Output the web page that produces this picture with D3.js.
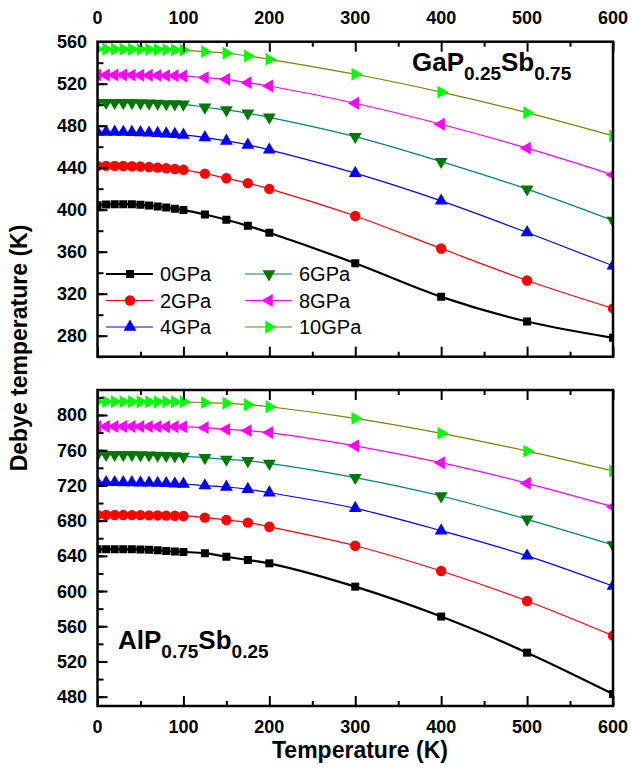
<!DOCTYPE html>
<html>
<head>
<meta charset="utf-8">
<script src="https://cdn.jsdelivr.net/npm/d3@7"></script>
<style>
  body { margin: 0; background: #fff; }
  svg { font-family: "Liberation Sans", Arial, sans-serif; }
  .tick-label { font-weight: bold; font-size: 18px; }
  .title { font-weight: bold; font-size: 23px; }
  .legend-text { font-size: 20px; }
</style>
</head>
<body>
<div id="chart"></div>
<script>
// temperatures (K) sampled for every curve
var temps = [0, 10, 20, 30, 40, 50, 60, 70, 80, 90, 100, 125, 150, 175, 200, 300, 400, 500, 600];
var pressures = ["0GPa", "2GPa", "4GPa", "6GPa", "8GPa", "10GPa"];

// GaP0.25Sb0.75 Debye temperature
var gap0 = [404.2, 405, 405.3, 405.3, 405.2, 404.6, 404, 403, 402, 400.8, 399.6, 395.4, 390.4, 384.6, 378, 349, 317, 293.5, 278];
var gap2 = [441.6, 441.7, 441.7, 441.6, 441.4, 441.1, 440.6, 440.1, 439.5, 438.8, 438, 434.4, 430, 425.3, 419.8, 394, 363, 332.6, 306];
var gap4 = [474, 474, 474, 473.9, 473.7, 473.5, 473.2, 472.8, 472.3, 471.8, 471.2, 468.7, 465.5, 461.7, 457, 434.8, 408.4, 378.3, 346.6];
var gap6 = [502, 502, 502, 501.9, 501.8, 501.6, 501.4, 501.1, 500.8, 500.6, 500.4, 497.6, 495, 491.8, 488, 469.6, 445.8, 419.6, 389.7];
var gap8 = [528.3, 528.3, 528.3, 528.3, 528.2, 528.1, 528, 527.9, 527.7, 527.6, 527.4, 525.8, 524.2, 521, 517.8, 501.4, 481.4, 458.6, 433.2];
var gap10 = [552.8, 552.8, 552.8, 552.8, 552.7, 552.7, 552.6, 552.5, 552.4, 552.2, 552, 550.5, 549, 546.4, 543.2, 529, 512, 492.4, 470.3];

// AlP0.75Sb0.25 Debye temperature
var alp0 = [647.4, 647.5, 647.5, 647.5, 647.4, 647.3, 647, 646.4, 645.6, 645, 644.4, 643, 639, 635.3, 631.5, 605, 571, 530, 483];
var alp2 = [686.4, 686.4, 686.4, 686.4, 686.3, 686.2, 686, 685.9, 685.7, 685.5, 685.3, 683.4, 680.7, 677.7, 673.1, 651.5, 622.8, 588.7, 549.3];
var alp4 = [723.5, 723.5, 723.5, 723.4, 723.3, 723.1, 722.9, 722.6, 722.3, 722, 721.6, 719.8, 718.2, 715.6, 711.7, 694, 668.6, 640, 605.7];
var alp6 = [755, 755, 755, 754.9, 754.8, 754.6, 754.4, 754.1, 753.8, 753.4, 753, 751.5, 749.6, 748, 745, 728.8, 708, 681.5, 652.3];
var alp8 = [787, 787, 787, 787, 786.9, 786.9, 786.8, 786.8, 786.7, 786.7, 786.6, 785.6, 783.7, 782.2, 780, 765, 745.8, 722.4, 695.8];
var alp10 = [815.2, 815.2, 815.2, 815.2, 815.2, 815.1, 815.1, 815.1, 815, 815, 815, 814, 813.3, 811.7, 809.4, 796.2, 779.2, 759, 736.4];

var xTicks = [0, 100, 200, 300, 400, 500, 600];
var gapTicks = [280, 320, 360, 400, 440, 480, 520, 560];
var alpTicks = [480, 520, 560, 600, 640, 680, 720, 760, 800];

// per-series look: line colour, marker colour, marker type, rotation
var lineColors = ["#000000", "#ff0000", "#0000ff", "#008080", "#ff00ff", "#808000"];
var markColors = ["#000000", "#ff0000", "#0000ff", "#007700", "#ff00ff", "#00ff00"];
var markTypes = [d3.symbolSquare, d3.symbolCircle, d3.symbolTriangle, d3.symbolTriangle, d3.symbolTriangle, d3.symbolTriangle];
var markSizes = [64, 85, 72, 72, 72, 72];
var markRot = [0, 0, 0, 180, -90, 90];

var W = 631, H = 772;
var svg = d3.select("#chart").append("svg")
	.attr("width", W)
	.attr("height", H);

var x = d3.scaleLinear().domain([0, 600]).range([97.5, 613]);

var panels = [
	{id: "gap", series: [gap0, gap2, gap4, gap6, gap8, gap10], y: d3.scaleLinear().domain([260, 560]).range([356.7, 41.7]), ticks: gapTicks, topLabels: true},
	{id: "alp", series: [alp0, alp2, alp4, alp6, alp8, alp10], y: d3.scaleLinear().domain([469.4, 828.4]).range([706, 390]), ticks: alpTicks, topLabels: false}
];

var line = d3.line()
	.x(function(d){return x(d[0]);})
	.y(function(d){return d[1];})
	.curve(d3.curveCatmullRom);

panels.forEach(function(p){
	var y = p.y;
	var top = y.range()[1], bottom = y.range()[0];
	var left = x.range()[0], right = x.range()[1];
	var g = svg.append("g").attr("class", "panel " + p.id);

	svg.append("clipPath").attr("id", "clip-" + p.id)
		.append("rect")
		.attr("x", left).attr("y", top)
		.attr("width", right - left).attr("height", bottom - top);

	var plot = g.append("g").attr("clip-path", "url(#clip-" + p.id + ")");

	p.series.forEach(function(vals, i){
		var pts = temps.map(function(t, j){return [t, y(vals[j])];});
		plot.append("path")
			.attr("d", line(pts))
			.attr("fill", "none")
			.attr("stroke", lineColors[i])
			.attr("stroke-width", i == 0 ? 2.2 : 1.2);
		plot.selectAll(".m" + i)
			.data(temps)
			.enter().append("path")
			.attr("class", "m" + i)
			.attr("d", d3.symbol().type(markTypes[i]).size(markSizes[i]))
			.attr("transform", function(t, j){
				return "translate(" + x(t) + "," + y(vals[j]) + ") rotate(" + markRot[i] + ")";
			})
			.attr("fill", markColors[i]);
	});

	// inward ticks on left, top and bottom
	var yMinor = d3.range(y.domain()[0], y.domain()[1], 20).map(function(v){return Math.ceil(v / 20) * 20;});
	var axL = g.append("g").attr("transform", "translate(" + left + ",0)")
		.call(d3.axisRight(y).tickValues(yMinor).tickSize(6).tickFormat(""));
	var axL2 = g.append("g").attr("transform", "translate(" + left + ",0)")
		.call(d3.axisRight(y).tickValues(p.ticks).tickSize(10).tickFormat(""));
	[axL, axL2].forEach(function(a){a.select(".domain").remove();});

	p.ticks.forEach(function(v){
		g.append("text").attr("class", "tick-label")
			.attr("x", 87).attr("y", y(v) + 6.5)
			.attr("text-anchor", "end")
			.text(v);
	});

	var xMinor = d3.range(50, 600, 100);
	[top, bottom].forEach(function(yy, k){
		var dir = k == 0 ? d3.axisBottom : d3.axisTop;
		var a1 = g.append("g").attr("transform", "translate(0," + yy + ")")
			.call(dir(x).tickValues(xTicks).tickSize(10).tickFormat(""));
		var a2 = g.append("g").attr("transform", "translate(0," + yy + ")")
			.call(dir(x).tickValues(xMinor).tickSize(5).tickFormat(""));
		a1.select(".domain").remove();
		a2.select(".domain").remove();
	});

	var labY = p.topLabels ? 24 : 733;
	xTicks.forEach(function(v){
		g.append("text").attr("class", "tick-label")
			.attr("x", x(v)).attr("y", labY)
			.attr("text-anchor", "middle")
			.text(v);
	});

	g.selectAll(".tick line").attr("stroke", "#000").attr("stroke-width", 2);

	g.append("rect")
		.attr("x", left).attr("y", top)
		.attr("width", right - left).attr("height", bottom - top)
		.attr("fill", "none")
		.attr("stroke", "#000")
		.attr("stroke-width", 2.5);
});

// compound labels with subscripts
function formula(xp, yp, parts){
	var t = svg.append("text").attr("x", xp).attr("y", yp)
		.attr("font-weight", "bold").attr("font-size", 26);
	parts.forEach(function(s){
		t.append("tspan")
			.attr("font-size", s.sub ? 19 : 26)
			.attr("dy", s.sub ? 9 : (s.back ? -9 : 0))
			.text(s.t);
	});
}
formula(412, 71, [{t: "GaP"}, {t: "0.25", sub: true}, {t: "Sb", back: true}, {t: "0.75", sub: true}]);
formula(118, 649, [{t: "AlP"}, {t: "0.75", sub: true}, {t: "Sb", back: true}, {t: "0.25", sub: true}]);

// legend, two columns of three
var legend = svg.append("g").attr("class", "legend");
pressures.forEach(function(name, i){
	var col = Math.floor(i / 3), row = i % 3;
	var lx = col == 0 ? 106 : 245;
	var ly = 274 + row * 26.5;
	legend.append("line")
		.attr("x1", lx).attr("x2", lx + 47)
		.attr("y1", ly).attr("y2", ly)
		.attr("stroke", lineColors[i])
		.attr("stroke-width", i == 0 ? 2.2 : 1.2);
	legend.append("path")
		.attr("d", d3.symbol().type(markTypes[i]).size(markSizes[i]))
		.attr("transform", "translate(" + (lx + 24) + "," + ly + ") rotate(" + markRot[i] + ")")
		.attr("fill", markColors[i]);
	legend.append("text").attr("class", "legend-text")
		.attr("x", lx + 54).attr("y", ly + 7)
		.text(name);
});

// axis titles
svg.append("text").attr("class", "title")
	.attr("x", 360).attr("y", 758)
	.attr("text-anchor", "middle")
	.text("Temperature (K)");
svg.append("text").attr("class", "title")
	.attr("transform", "translate(27,348) rotate(-90)")
	.attr("text-anchor", "middle")
	.text("Debye temperature (K)");
</script>
</body>
</html>
